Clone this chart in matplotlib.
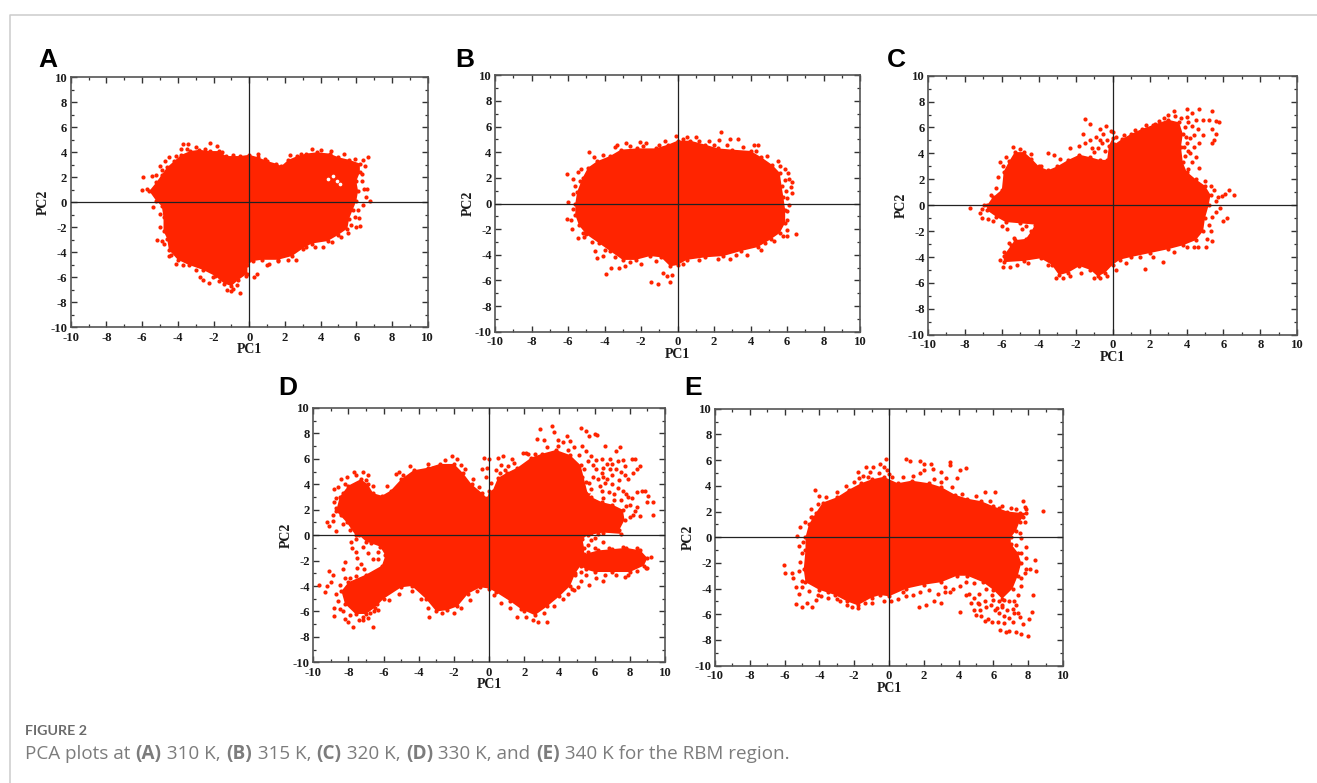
import matplotlib
matplotlib.use("Agg")
import matplotlib.pyplot as plt
from matplotlib.lines import Line2D

RED = "#ff2400"

# cloud outlines (PC1, PC2)
a_edge = [(-5.6,0.9),(-5.2,1.6),(-4.9,2.2),(-4.6,2.8),(-4.2,3.3),(-3.8,3.8),(-3.3,4.1),(-2.8,4.2),(-2.2,4.1),(-1.7,4.1),(-1.3,3.7),(-0.5,3.7),(0,3.8),(0.5,3.6),(1,3.3),(1.5,3.1),(1.8,2.9),(2.2,3.4),(2.7,3.7),(3.2,3.9),(3.8,4.0),(4.5,3.9),(5,3.6),(5.6,3.4),(6.2,3.1),(6.2,2.4),(6.0,1.7),(6.1,0.9),(6.0,0.1),(5.8,-0.6),(5.6,-1.3),(5.5,-2.1),(5.0,-2.6),(4.4,-3.1),(3.5,-3.3),(3,-3.7),(2.4,-4.3),(1.6,-4.6),(0.7,-4.6),(0.2,-4.7),(-0.1,-5.0),(-0.1,-5.7),(-0.6,-6.2),(-1,-6.7),(-1.4,-6.5),(-1.9,-5.9),(-2.6,-5.4),(-3.4,-5.0),(-4,-4.6),(-4.5,-3.8),(-4.6,-2.9),(-4.8,-2.3),(-4.8,-1.2),(-4.9,-0.3),(-5.2,0.1)]
a_dots = [(-5.97,2.0),(-6.0,1.0),(-5.45,2.1),(-5.2,2.2),(-5.7,1.07),(-4.9,2.6),(-4.5,3.6),(-3.73,4.64),(-3.43,4.64),(-3.84,4.27),(-3.5,4.24),(-2.2,4.75),(-1.83,4.5),(6.68,3.65),(6.38,3.4),(6.47,2.9),(6.3,2.3),(6.44,1.07),(6.6,1.1),(6.57,0.4),(6.77,0.1),(6.38,-0.2),(6.16,-1.28),(6.2,-1.87),(5.97,-2),(5.54,-2.48),(-5.19,-3.04),(-5.39,-0.37),(-4.9,-3.07),(-4.5,-4.3),(-4.12,-4.93),(-2.76,-6),(-2.57,-6.2),(-2.28,-6.48),(-2.05,-5.95),(-1.27,-7.04),(-1.03,-7.07),(-0.49,-7.28),(-0.67,-6.6),(0.41,-5.76),(0.26,-5.95),(1,-5),(1.62,-4.72),(2.6,-4.6),(4.14,-3.6),(4.66,-3.15),(5.17,-2.75),
          (-5.0,2.9),(-4.7,3.3),(-4.1,3.7),(-3.0,4.4),(-2.5,4.3),(-1.5,4.0),(-0.9,3.8),(0.5,3.9),(0.9,3.5),(2.3,3.8),(2.9,3.9),(3.5,4.3),(4,4.2),(4.6,4.1),(5.3,3.9),(5.9,3.5),(6.3,1.7),(6.1,-0.6),(5.9,-1.2),(5.7,-1.8),(3.7,-3.6),(3.2,-3.6),(2.2,-4.6),(1.1,-4.9),(-0.2,-5.9),(-0.9,-6.9),(-1.7,-6.3),(-3,-5.4),(-3.7,-5),(-4.4,-4.2),(-4.8,-3.3),(-5,-2),(-5,-0.9)]
a_gaps = [(4.9,1.7),(4.7,2.1),(5.1,1.5),(4.4,1.9)]

b_edge = [(-5.6,0),(-5.5,0.9),(-5.2,2),(-4.9,2.8),(-4.4,3.3),(-3.7,3.7),(-3.1,4.2),(-2.2,4.3),(-1.2,4.3),(-0.5,4.6),(0,4.9),(0.7,4.9),(1.5,4.6),(2.2,4.3),(3,4.2),(4,4.1),(4.6,3.6),(5.2,3),(5.6,2.4),(5.7,1.4),(5.8,0.5),(5.9,-0.5),(5.9,-1.5),(5.6,-2.3),(5.1,-2.8),(4.4,-3.4),(3.5,-3.7),(2.5,-4.1),(1.5,-4.2),(0.5,-4.4),(0,-4.8),(-0.4,-4.9),(-0.9,-4.2),(-1.5,-4.1),(-2.3,-4.4),(-3,-4.4),(-3.7,-3.7),(-4.3,-3.1),(-5,-2.4),(-5.4,-1.7),(-5.6,-0.9)]
b_dots = [(-6.05,2.28),(-5.7,1.95),(-5.35,1.75),(-5.45,2.45),(-5.3,2.7),(-4.85,4.05),(-5.75,0.75),(-6,0.15),(-6.05,-1.2),(-5.85,-1.25),(-5.8,-2),(-5.45,-2.7),(-5.1,-2.6),(-4.5,-3.7),(-4.4,-4.25),(-4.1,-4.1),(-3.9,-5.5),(-3.65,-5),(-3.2,-5),(-2.9,-4.9),(-1.45,-6.15),(-1.05,-6.25),(-0.4,-6.15),(-0.6,-5.65),(-0.3,-5.6),(-0.8,-5.4),(-2.05,4.8),(-2.8,4.7),(-3.3,4.6),(-1.7,4.7),(-0.1,5.25),(0.5,5.2),(1,5.15),(1.7,4.9),(2.4,5.55),(2.9,5),(3.3,5),(2.3,4.95),(4.2,4.6),(4.4,4.6),(5.5,3.3),(5.9,2.7),(6.05,2.4),(6.3,1.65),(6.1,1.9),(6.2,1.3),(6.3,0.8),(6,0.4),(6.1,-0.1),(6.5,-2.4),(6,-2.1),(6,-2.5),(5.8,-2.5),(4.8,-3.1),(3.8,-4),(2.9,-4.3),
          (-4.6,3.6),(-4.1,3.8),(-3.4,4.4),(-2.6,4.5),(-1.9,4.5),(-1,4.6),(-0.7,4.9),(0.3,5),(1.2,4.9),(2,4.6),(2.7,4.6),(3.6,4.4),(4.3,4.1),(4.9,3.7),(5.6,2.9),(5.9,1.8),(5.95,1),(6,-0.6),(6,-1.3),(5.3,-2.9),(4.6,-3.6),(3.2,-4),(2.2,-4.3),(1.2,-4.4),(0.3,-4.7),(-1.2,-4.5),(-2,-4.7),(-2.6,-4.6),(-3.4,-4.2),(-4,-3.6),(-4.7,-3),(-5.2,-2.3),(-5.7,-0.4),(-5.6,1.4)]
b_gaps = []

c_edge = [(-6.8,0),(-6.5,0.6),(-6,1.2),(-5.9,2.6),(-5.6,3.4),(-5.3,4.1),(-4.8,4.1),(-4.4,3.6),(-4,3),(-3.5,2.7),(-3,3),(-2.4,3.5),(-1.8,3.9),(-1.2,3.7),(-0.7,3.5),(-0.3,3.5),(-0.2,4.6),(0,5.2),(0.1,4.7),(0.5,5.1),(1,5.5),(1.6,5.9),(2.2,6.2),(3,6.6),(3.6,6.4),(3.8,5.5),(3.7,4.5),(3.8,3.3),(4,2.6),(4.5,2),(5,1.5),(5.3,0.8),(5.2,0),(5,-1),(4.9,-2),(4.5,-2.7),(3.8,-3.1),(3,-3.4),(2,-3.7),(1,-4),(0.4,-4.2),(0,-4.6),(-0.4,-5.2),(-0.8,-5.5),(-1.2,-5),(-1.8,-4.7),(-2.4,-5.2),(-2.9,-5.4),(-3.3,-4.6),(-3.9,-4.1),(-4.8,-4.3),(-5.9,-4.4),(-5.9,-3.9),(-5.5,-3.1),(-5.3,-2.7),(-4.7,-2.6),(-4.4,-2),(-4.2,-1.5),(-5,-1.4),(-5.8,-1.3),(-6.3,-0.9),(-6.8,-0.4)]
c_dots = [(-7.75,-0.2),(-7.2,-0.6),(-7.05,-1),(-6.75,-1.1),(-6.95,0),(-7.05,-0.3),(-6.6,0.75),(-6.1,3.3),(-5.95,3),(-5.4,4.5),(-5,4.35),(-4.4,3.95),(-3.5,4.05),(-3.9,3),(-3.2,3.9),(-2.85,3.6),(-2.3,4.4),(-1.8,4.6),(-1.5,4.8),(-1.6,5.5),(-1.5,6.65),(-1.2,6.3),(-0.7,5.9),(-0.35,6.1),(-0.9,5.3),(-0.6,4.8),(-1,4.1),(-0.5,5.5),(-0.1,5.7),(0,5.65),(2.5,6.5),(3,7),(3.3,7.3),(3.4,6.9),(4.05,7.4),(4.3,7.1),(4.7,7.4),(5.4,7.3),(4.5,6.6),(4,6.8),(3.9,6),(4.9,6.6),(5.2,6.6),(5.6,6.5),(5.75,6.4),(5.4,5.9),(5.6,5.5),(5.5,5),(5.4,4.8),(4.9,5.4),(4.6,5.9),(4.4,5.4),(4.7,4.8),(4.2,5.2),(4.1,4.2),(3.9,3.8),(4.3,3.3),(4.2,4),(4.65,2.9),(4.1,2.8),(5.3,1.5),(5.5,1.2),(6.3,1.2),(6.1,0.9),(6.55,0.75),(5.9,0.7),(5.7,0.6),(5.8,-0.2),(5.6,-0.5),(6.2,-1),(6,-1.2),(5.2,-1.5),(5.4,-2.8),(5.05,-3.25),(4.6,-3.25),(4.4,-3.2),(2.7,-4.35),(1.75,-4.9),(2.2,-4),(0.7,-4.5),(0.2,-5),(-0.3,-5.45),(-0.7,-5.6),(-1,-5.65),(-2.7,-5.6),(-3.05,-5.65),(-5.95,-4.8),(-5.55,-4.8),(-5.9,-3.6),(-5.35,-2.5),(-5.7,-1.8),(-4.9,-1.8),(-4.7,-1.6),
          (-0.8,4.4),(-0.4,4.2),(-0.7,5),(-1.2,5),(-1.1,4.4),(-0.3,5),(0.2,5.3),(0.6,5.4),(1.2,5.8),(1.8,6.2),(2.3,6.3),(2.8,6.7),(3.7,6.7),(4.1,6.4),(3.95,5.3),(4,4.8),(4.4,4.5),(4.3,6.1),(3.85,4.5),(4.5,3.7),(5,1.9),(5.6,0.3),(5.4,-0.9),(5.3,-2),(5.1,-2.6),(4,-3.2),(3.3,-3.6),(1.5,-4),(-1.7,-5.2),(-2.3,-5.5),(-3.5,-4.6),(-4.6,-4.5),(-5.2,-4.6),(-6.1,-4.2),(-5.6,-2.9),(-6,-1.6),(-6.5,-1.2),(-6.3,1.3),(-6.2,2.2),(-5.8,3.7)]
c_gaps = []

d_edge = [(-7.6,0),(-8.1,1),(-8.7,1.9),(-8.5,3),(-8,3.9),(-7.3,4.4),(-6.9,4),(-6.6,3.3),(-6.1,3.1),(-5.6,3.5),(-5,4.4),(-4.3,5.1),(-3.5,5.3),(-2.8,5.6),(-2,5.6),(-1.5,4.9),(-1,4),(-0.4,3.3),(-0.1,2.9),(0,3.5),(0.2,3.5),(0.5,4.5),(1,4.9),(1.6,5.3),(2.4,6.1),(3,6.4),(3.8,6.7),(4.6,6.3),(5.2,5.5),(5.6,3.3),(5.8,3),(6.4,2.6),(7,2.4),(7.6,2),(7.7,1.2),(7.4,0.4),(7.5,0.1),(6.5,0.2),(5.6,0),(5.3,-0.3),(5.4,-1),(5.4,-1.5),(6.2,-1.2),(7,-1.1),(7.8,-1),(8.6,-1.2),(9,-1.8),(8.8,-2.4),(8,-2.9),(7,-2.9),(6,-2.9),(5.5,-2.7),(5.2,-2.4),(4.9,-3),(4.6,-4),(4,-4.8),(3.3,-5.6),(2.6,-6.3),(1.8,-5.8),(1.2,-5.2),(0.4,-4.5),(0,-4.2),(-0.5,-4.1),(-1.2,-4.6),(-1.8,-5.6),(-2.4,-5.9),(-3,-6),(-3.6,-5),(-4.4,-4),(-5,-4.1),(-6,-5),(-6.5,-5.7),(-7,-6.2),(-7.6,-6.2),(-8.2,-5.4),(-8.4,-4.4),(-8,-3.7),(-7,-3.1),(-6.1,-2.4),(-5.9,-1.6),(-6.2,-0.9),(-7,-0.5),(-7.4,0)]
d_dots = [(-9.65,-3.95),(-9.35,-4.45),(-9.2,-4),(-9.1,-2.8),(-9,-3.7),(-8.9,-3.1),(-8.85,-5.7),(-8.8,-6.35),(-9.1,0.7),(-8.9,1.1),(-9.2,1),(-8.7,0.3),(-8.9,1.6),(-8.8,2.6),(-8.85,3.6),(-8.6,3.8),(-8.4,4.4),(-8.1,4.6),(-8.3,3.3),(-7.85,-0.5),(-7.2,5),(-7.7,5),(-6.9,4.7),(-6.6,-7.2),(-7.75,-7.2),(-7.4,-6.7),(-7.2,-6.7),(-6.9,-6.5),(-6.8,-6.1),(-6.55,-6),(-6.4,-5.4),(-8,-6.8),(-8.2,-6.6),(-7.8,-1),(-7.5,-1.8),(-7.1,-2.7),(-6.9,-1.4),(-6.6,-1.9),(-6.3,-1.3),(-6.1,-0.8),(-7.6,-1.3),(-7.3,-2.3),(-6.7,-0.6),(-6.3,-1.9),(-8.2,-2.1),(-8.3,-2.7),(-5.8,3.9),(-5.5,3.2),(-5.3,4.8),(-5.7,3),(-5.1,5),(-3.2,5.3),(-3.4,-6.4),(-2.1,6.2),(-1.8,6),(-0.3,6.05),(0,6),(-0.4,5.2),(-0.2,4.6),(-0.1,5.3),(0.1,4.1),(0.15,3.3),(0.3,3.2),(0.5,6.05),(0.8,6.2),(1.3,6),(1.9,6.5),(2.1,6.5),(2.9,8.35),(2.7,7.6),(3.1,7.5),(3.6,8.55),(3.7,8.15),(3.9,7.5),(4.4,7.8),(4.6,7.4),(5.2,8.4),(5.5,8.2),(5.7,7.8),(6,7.95),(6.15,7.9),(6.6,7),(6.9,6),(7.2,6.6),(7.6,5.9),(7.45,6.9),(8.1,6),(8.3,5.95),(8.6,5.45),(8.4,5.2),(8.2,4.9),(7.9,4.4),(7.7,5.4),(7.2,5.2),(7,4.7),(6.7,4.4),(6.4,4.9),(6.1,5.2),(5.9,4.6),(5.7,4.1),(6.3,3.9),(6.6,4.1),(7,4),(7.4,4.3),(7.1,3.2),(6.8,3.4),(6.4,3.5),(7.8,3.2),(8.1,2.9),(8.4,3.4),(8.7,3.5),(9.3,2.6),(9.05,3.05),(8.95,2.6),(8.85,3.45),(9.3,1.6),(8,1.4),(7.8,2.3),(8.3,1.9),(8.6,1.5),(6.2,0.1),(6.45,-0.5),(5.6,-0.8),(5.8,-0.4),(6.5,-3.6),(9.2,-1.7),(9,-2.55),(7.7,-3.3),(7.9,-3.1),(6.1,-3.4),(5.7,-3.9),(5.05,-4.1),(5.2,-3.6),(4.8,-4.3),(4.5,-4.6),(4.2,-5),(4.7,-4.2),(4.9,-3.1),(3.3,-6.8),(2.75,-6.85),(2.5,-6.7),(2.1,-6.4),(1.6,-6.4),(1.2,-5.7),(0.7,-5.3),(0.3,-4.7),
          (5.5,6.6),(5.8,6.2),(6.1,5.9),(6.4,6),(6.7,5.6),(7,5.6),(7.3,5.8),(7.5,5),(7.7,4.7),(6.9,5.2),(6.5,5.3),(5.9,5.5),(5.6,5.8),(5.4,5.2),(5.3,4.6),(5.5,4.2),(5.8,3.6),(6.2,4.4),(6.5,4.6),(7.3,3.7),(7.6,3.5),(7.9,3),(7.5,2.8),(8,2.4),(8.2,1.6),(8.4,2.2),(6.5,2.9),(7.1,2.8),(4.5,6.7),(4.8,6.9),(5.1,6.3),(5.3,7),(3.3,6.9),(3.9,7),(4.2,7.3),(2.6,6.4),(2.2,6.4),(1.1,5.4),(0.7,5.5),(1.4,5.7),(0.4,5.1),(0.9,5.1),(0.6,4.9),(-0.6,3.8),(-0.9,4.4),(-1.4,5.2),(-1.6,5.5),(-2.5,5.9),(-3.5,5.6),(-4.5,5.4),(-4.9,4.7),(-7.6,4.7),(-7,4.3),(-6.6,3.9),(-8.2,4),(-8.7,2.9),(-8.7,2.1),(-8.4,1.6),(-8.3,0.9),(-7.9,0.4),(-7.6,-0.3),(-7.2,-0.9),(-7.5,-2.6),(-7.9,-3.4),(-7.6,-3.2),(-8.2,-3.4),(-8.5,-3.9),(-8.7,-4.6),(-8.6,-5.2),(-8.5,-5.8),(-8.3,-6),(-7.9,-6.3),(-7.2,-6.4),(-6.3,-5.9),(-5.7,-5.1),(-5.1,-4.6),(-4.4,-4.4),(-3.9,-5),(-3.5,-5.7),(-2.7,-6.1),(-2,-6.1),(-1.6,-5.7),(-1.1,-5.1),(-0.7,-4.4),(5.2,-2.9),(5.5,-3.1),(6.6,-3.1),(7.2,-3.1),(8.4,-2.8),(8.9,-2.6),(8.4,-1),(7.6,-0.9),(6.8,-1),(6,-1),(5.6,-1.3),(6,-0.2),(5.4,0.3),(5.8,0.2),(6.8,0.4),(7.3,0.9),(3.7,-5.6),(3.1,-6.1),(2,-6)]
d_gaps = [(-7,-2.2),(-6.7,-2.3),(-7.3,-1.5),(6,4.4),(6.5,3.6),(7.1,3.2),(6.2,3.1),(6.8,4.6),(5.7,3.5)]

e_edge = [(-4.8,0),(-4.6,1),(-4.2,1.9),(-3.8,2.7),(-3,3.1),(-2.3,3.7),(-1.6,4.2),(-1,4.5),(-0.3,4.7),(0.5,4.2),(1.3,4.4),(2.3,4.2),(3,3.9),(3.8,3.3),(4.5,3),(5.3,2.8),(6,2.4),(6.8,2),(7.5,1.9),(7.9,1.9),(7.5,1.2),(7.3,0.5),(7,0),(7,-0.5),(7.4,-1.2),(7.6,-2),(7.4,-3),(7.1,-4),(6.5,-4.8),(6,-4.1),(5.4,-3.5),(4.5,-3),(3.9,-3),(3,-3.5),(2,-3.7),(1,-4),(0,-4.6),(-0.5,-4.5),(-1,-4.7),(-1.8,-5.3),(-2.4,-5),(-3.1,-4.5),(-4,-4.1),(-4.8,-3.5),(-4.9,-2.5),(-4.8,-1)]
e_dots = [(-6.05,-2.15),(-6,-2.8),(-5.6,-2.8),(-5.5,-3.2),(-5.35,-5.2),(-5.35,-3.9),(-5.2,-4.4),(-5.15,-0.7),(-5.3,0.1),(-5.1,0.8),(-5,-3.9),(-5,-5.45),(-4.7,-5.1),(-4.4,-5.4),(-4.2,-4.9),(-3.9,-4.6),(-3.5,-4.3),(-3,-4.8),(-2.1,-5.45),(-1.8,-5.5),(-4.25,3.65),(-4.05,3.2),(-4.4,1.6),(-4.5,2.2),(-1.8,5.05),(-1.3,5.5),(-0.5,5.7),(-0.2,6.05),(-0.3,5.5),(-1.5,4.8),(-1.1,5.1),(-0.9,5.5),(-0.1,5.2),(0,4.9),(1,6.1),(1.2,5.9),(1.8,5.9),(2,5.7),(2,5.2),(2.4,5.7),(2.5,5.3),(3,5.1),(3.5,5.85),(3.5,5.6),(3.3,4.6),(4.1,5.2),(4.4,5.4),(3.9,4.6),(5.5,3.5),(6.1,3.5),(6.3,2.3),(7,2.3),(7.7,2.8),(7.8,2.35),(7.7,1.6),(7.9,2.2),(8.85,2.05),(7.6,-0.1),(7.85,-0.8),(8.4,-1.8),(8.45,-2.6),(7.9,-2.45),(8.1,-2.5),(8.25,-4.5),(8.2,-5.85),(8.05,-6.4),(8,-7.7),(7.6,-7.55),(7.3,-7.35),(7.15,-6.6),(6.9,-7.3),(6.7,-7.35),(6.4,-7.2),(6.6,-6.7),(6.25,-6.6),(6.1,-5.7),(5.9,-6.6),(5.7,-6.35),(5.5,-6.55),(5.3,-6.1),(5,-6.05),(4.9,-5.65),(4.7,-5.1),(5.1,-5.1),(5.25,-5.65),(5.5,-5),(5.85,-5.3),(6.2,-5.5),(6.5,-5.3),(6.8,-5.7),(7.1,-5.6),(7.4,-5.9),(7.7,-6.75),(7.5,-6.2),(7.2,-5.9),(6.9,-6.3),(6.6,-6.1),(6.3,-5.9),(6,-4.9),(5.6,-5.4),(5.2,-5.2),(4.4,-4.5),(4.1,-5.8),(3.5,-4.3),(3,-5.1),(2.6,-5),(2.1,-5.3),(1.7,-5.4),(1,-4.6),(0.5,-4.8),(0.1,-5),(4.6,-4.4),(3.2,-4.3),(6.5,-5.4),(7.3,-5.3),(7.6,-3.2),
          (-4.8,1.2),(-4.5,1.6),(-4.1,2.6),(-3.6,3.1),(-3,3.5),(-2.5,4),(-2,4.3),(-1.7,4.6),(-1.2,4.7),(-0.6,5),(0.2,4.7),(0.8,4.7),(1.4,4.8),(1.8,5),(2.6,4.5),(3,4.3),(3.6,3.9),(4.2,3.4),(5,3.2),(5.8,2.8),(6.5,2.4),(7.3,2.2),(7.8,1.2),(7.5,0.3),(7.3,-0.6),(7.6,-1.2),(7.9,-1.6),(7.8,-2.8),(7.6,-3.8),(7.4,-4.5),(7.2,-5),(6.9,-5),(6.6,-4.9),(6.3,-5),(5.9,-4.5),(5.6,-4),(5.2,-4.4),(4.9,-4.7),(4.9,-3.6),(4.4,-3.5),(4.1,-3.8),(3.7,-4),(3.2,-3.9),(2.8,-4.4),(2.3,-4.1),(1.8,-4.3),(1.4,-4.5),(0.8,-4.3),(-0.3,-5),(-1,-5.1),(-1.4,-5.1),(-2.4,-5.3),(-2.8,-5),(-3.5,-4.7),(-4.1,-4.5),(-4.6,-4.2),(-5,-3.4),(-5.2,-2.6),(-5.1,-1.9),(-5,-1.2),(-4.95,-0.4)]
e_gaps = [(5,-4.6),(5.5,-4.4),(6,-4.9),(4.6,-4.1)]

panel_letters = ["A", "B", "C", "D", "E"]
edges = [a_edge, b_edge, c_edge, d_edge, e_edge]
dots = [a_dots, b_dots, c_dots, d_dots, e_dots]
gaps = [a_gaps, b_gaps, c_gaps, d_gaps, e_gaps]

W, H = 1317, 783
# axes boxes in picture pixels: left, right, top, bottom
boxes = [(70.7, 427.7, 77.3, 327.3), (495, 860, 75.3, 331.7), (928, 1297.3, 75.7, 334.7),
         (313.3, 665, 408, 662.3), (715, 1063, 408.7, 665.7)]
letter_pos = [(38, 67), (455, 67), (887, 67), (278, 395), (684, 395)]

major = list(range(-10, 11, 2))
minor = list(range(-9, 10, 2))
serif = dict(family="Liberation Serif", weight="bold", color="#1a1a1a")

fig = plt.figure(figsize=(W / 100, H / 100), dpi=100)

# page frame
fig.add_artist(Line2D([9.5 / W, 9.5 / W, 1], [0, 1 - 14.5 / H, 1 - 14.5 / H], color="#cccccc", lw=1.1))

for i in range(5):
    l, r, t, b = boxes[i]
    ax = fig.add_axes([l / W, 1 - b / H, (r - l) / W, (b - t) / H])
    ax.fill([p[0] for p in edges[i]], [p[1] for p in edges[i]], color=RED, lw=0, zorder=2)
    ax.scatter([p[0] for p in edges[i]], [p[1] for p in edges[i]], s=9, color=RED, lw=0, zorder=2)
    if gaps[i]:
        ax.scatter([p[0] for p in gaps[i]], [p[1] for p in gaps[i]], s=7, color="white", lw=0, zorder=3)
    ax.scatter([p[0] for p in dots[i]], [p[1] for p in dots[i]], s=9, color=RED, lw=0, zorder=4)
    ax.axhline(0, color="#222222", lw=0.9, zorder=5)
    ax.axvline(0, color="#222222", lw=0.9, zorder=5)
    ax.set_xlim(-10, 10)
    ax.set_ylim(-10, 10)
    ax.set_xticks(major)
    ax.set_yticks(major)
    ax.set_xticks(minor, minor=True)
    ax.set_yticks(minor, minor=True)
    ax.tick_params(which="major", direction="in", top=True, right=True, length=4.5, width=1, color="#333333", pad=2.5)
    ax.tick_params(which="minor", direction="in", top=True, right=True, length=2.3, width=0.9, color="#333333")
    ax.tick_params(axis="x", which="major", pad=3.3)
    ax.set_xticklabels([str(v) for v in major], size=9.1, **serif)
    ax.set_yticklabels([str(v) for v in major], size=9.1, **serif)
    ax.set_xlabel("PC1", size=10, labelpad=-0.5, **serif)
    ax.set_ylabel("PC2", size=10, labelpad=0, **serif)
    for s in ax.spines.values():
        s.set_linewidth(1.2)
        s.set_color("#555555")
    fig.text(letter_pos[i][0] / W, 1 - letter_pos[i][1] / H, panel_letters[i], family="Liberation Sans",
             weight="bold", size=19, color="black", ha="left", va="baseline")

# caption, pieces placed one after another
fig.text(25 / W, 1 - 735 / H, "FIGURE 2", family="Lato", weight="bold", size=10.3, color="#6b6b6b")
pieces = [("PCA plots at ", "normal"), ("(A)", "bold"), (" 310 K, ", "normal"), ("(B)", "bold"),
          (" 315 K, ", "normal"), ("(C)", "bold"), (" 320 K, ", "normal"), ("(D)", "bold"),
          (" 330 K, and ", "normal"), ("(E)", "bold"), (" 340 K for the RBM region.", "normal")]
rend = fig.canvas.get_renderer()
cx = 25.0
for txt, wt in pieces:
    t = fig.text(cx / W, 1 - 759 / H, txt.replace(" ", "\u00a0"), family="Open Sans", weight=wt, size=13.6, color="#7c7c7c")
    cx = t.get_window_extent(rend).x1 + 0.5

fig.savefig("out.png", dpi=100)
